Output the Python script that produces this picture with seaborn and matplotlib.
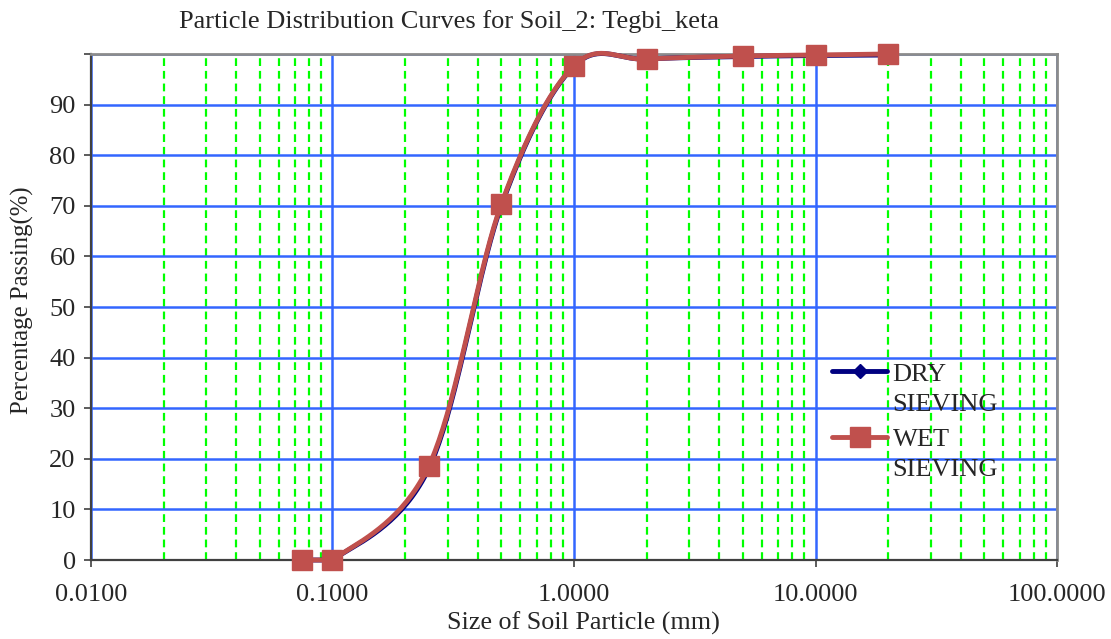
#!/usr/bin/env python3
import numpy as np
import pandas as pd
import matplotlib
matplotlib.use("Agg")
import matplotlib.pyplot as plt
import seaborn as sns
from matplotlib.lines import Line2D
from matplotlib.ticker import LogLocator, FuncFormatter, MultipleLocator, NullFormatter

sns.set_style("white")
plt.rcParams["font.family"] = ["Liberation Serif", "DejaVu Serif"]

# sieve sizes (mm) and percentage passing
sizes = [0.075, 0.1, 0.25, 0.5, 1.0, 2.0, 5.0, 10.0, 20.0]
dry_passing = [0.0, 0.0, 18.0, 70.0, 97.6, 99.0, 99.5, 99.7, 99.8]
wet_passing = [0.0, 0.0, 18.5, 70.3, 97.7, 99.0, 99.6, 99.8, 100.0]

series_first = ["DRY", "WET"]
series_second = ["SIEVING", "SIEVING"]
series_colors = ["#000080", "#C0504D"]

title = "Particle Distribution Curves for Soil_2: Tegbi_keta"
xlabel = "Size of Soil Particle (mm)"
ylabel = "Percentage Passing(%)"


def smooth_curve(xs, ys, n=40):
    """Excel-like smoothed line: Catmull-Rom bezier in (log x, y) space."""
    u = np.log10(np.asarray(xs, dtype=float)) * 241.5
    v = np.asarray(ys, dtype=float) * 5.06
    pts = np.column_stack([u, v])
    out = []
    for i in range(len(pts) - 1):
        p0 = pts[max(i - 1, 0)]
        p1 = pts[i]
        p2 = pts[i + 1]
        p3 = pts[min(i + 2, len(pts) - 1)]
        c1 = p1 + (p2 - p0) / 6.0
        c2 = p2 - (p3 - p1) / 6.0
        t = np.linspace(0, 1, n)[:, None]
        seg = (1 - t) ** 3 * p1 + 3 * (1 - t) ** 2 * t * c1 + 3 * (1 - t) * t ** 2 * c2 + t ** 3 * p2
        out.append(seg if i == 0 else seg[1:])
    out = np.vstack(out)
    # keep the curve from dipping under the x axis
    return 10 ** (out[:, 0] / 241.5), np.maximum(out[:, 1] / 5.06, 0)


fig = plt.figure(figsize=(11.11, 6.39), dpi=100)
ax = fig.add_axes([0.0819, 0.1236, 0.8695, 0.7919])

ax.set_xscale("log")
ax.set_xlim(0.01, 100)
ax.set_ylim(0, 100)

# grid
ax.xaxis.set_major_locator(LogLocator(base=10, numticks=10))
ax.xaxis.set_minor_locator(LogLocator(base=10, subs=np.arange(2, 10), numticks=20))
ax.xaxis.set_major_formatter(FuncFormatter(lambda x, p: f"{x:.4f}"))
ax.xaxis.set_minor_formatter(NullFormatter())
ax.yaxis.set_major_locator(MultipleLocator(10))
ax.yaxis.set_major_formatter(FuncFormatter(lambda y, p: "" if y >= 100 else f"{y:.0f}"))

ax.grid(False)
ax.xaxis.grid(True, which="minor", color="#00FF00", linestyle=(0, (3.5, 2.2)), linewidth=1.6, zorder=0)
ax.xaxis.grid(True, which="major", color="#3366FF", linestyle="-", linewidth=1.8, zorder=0)
ax.yaxis.grid(True, which="major", color="#3366FF", linestyle="-", linewidth=1.8, zorder=0)
ax.set_axisbelow(True)

for vals, col in [(dry_passing, series_colors[0]), (wet_passing, series_colors[1])]:
    sx, sy = smooth_curve(sizes, vals)
    df = pd.DataFrame({"size": sx, "passing": sy})
    sns.lineplot(data=df, x="size", y="passing", sort=False, estimator=None, ax=ax,
                 color=col, linewidth=3.5, clip_on=False, zorder=3)

ax.plot(sizes, dry_passing, linestyle="none", marker="D", markersize=7,
        color=series_colors[0], clip_on=False, zorder=4)
ax.plot(sizes, wet_passing, linestyle="none", marker="s", markersize=14,
        color=series_colors[1], markeredgecolor=series_colors[1], clip_on=False, zorder=5)

for s in ["left", "bottom"]:
    ax.spines[s].set_color("#404040")
    ax.spines[s].set_linewidth(1.6)
for s in ["top", "right"]:
    ax.spines[s].set_color("#8C8C8C")
    ax.spines[s].set_linewidth(2.0)

ax.tick_params(axis="both", which="major", labelsize=19, direction="out", length=5,
               width=1.2, color="#404040", left=True, bottom=True)
ax.tick_params(axis="x", which="major", pad=12)
ax.tick_params(axis="y", which="major", pad=6)
ax.tick_params(axis="x", which="minor", length=0)
ax.set_xlabel("")
ax.set_ylabel("")

fig.text(0.404, 0.966, title, ha="center", va="center", fontsize=19)
fig.text(0.525, 0.024, xlabel, ha="center", va="center", fontsize=18.8)
fig.text(0.020, 0.53, ylabel, ha="center", va="center", rotation=90, fontsize=17.8)

# legend: first word next to the handle, second word on the line below
handles = [
    Line2D([0], [0], color=series_colors[0], linewidth=3.5, marker="D", markersize=7),
    Line2D([0], [0], color=series_colors[1], linewidth=3.5, marker="s", markersize=14),
]
leg = ax.legend(handles, series_first, loc="upper left", bbox_to_anchor=(0.767, 0.391),
                frameon=False, fontsize=19, handlelength=2.1, handletextpad=0.2,
                labelspacing=1.58, borderaxespad=0, borderpad=0)
fig.canvas.draw()
inv = fig.transFigure.inverted()
for txt, second in zip(leg.get_texts(), series_second):
    bb = txt.get_window_extent()
    x0, y0 = inv.transform((bb.x0, bb.y0 - 30))
    fig.text(x0, y0, second, ha="left", va="bottom", fontsize=19)

fig.savefig("out.png", dpi=100)
